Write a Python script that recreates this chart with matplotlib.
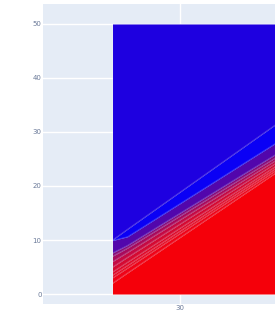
import matplotlib
matplotlib.use("Agg")
import matplotlib.pyplot as plt

# x positions of the data nodes
x_nodes = [25.5, 26.5, 37.0]

# boundary lines, bottom to top (value at each x node)
b1 = [2.0, 3.9, 23.6]
b2 = [3.0, 4.8, 24.0]
b3 = [3.5, 5.3, 24.4]
b4 = [4.1, 5.9, 24.8]
b5 = [5.0, 6.8, 25.3]
b6 = [6.0, 7.7, 25.8]
b7 = [7.0, 8.5, 26.3]
b8 = [7.6, 9.0, 26.9]
b9 = [9.9, 10.6, 29.0]
b10 = [10.0, 12.0, 32.6]
y_top = 50
bounds = [b1, b2, b3, b4, b5, b6, b7, b8, b9, b10]

# band fills, bottom to top
band_colors = ["#F5000A", "#EE0418", "#E6061F", "#DE0828", "#D40A32",
               "#C40A44", "#A80A5C", "#880A78", "#5206AC", "#0A00F5", "#1E00E0"]

fig = plt.figure(figsize=(2.75, 3.14), dpi=100)
ax = fig.add_axes([43 / 275, 10 / 314, 1 - 43 / 275, 300 / 314])
ax.set_facecolor("#E5ECF6")
for s in ax.spines.values():
    s.set_visible(False)

lower = [0] * len(x_nodes)
for i, col in enumerate(band_colors):
    upper = bounds[i] if i < len(bounds) else [y_top] * len(x_nodes)
    ax.fill_between(x_nodes, lower, upper, color=col, lw=0, zorder=2)
    lower = upper

for b in bounds:
    ax.plot(x_nodes, b, color="white", alpha=0.22, lw=0.6, zorder=3)
ax.plot([x_nodes[0]] * 2, [0, y_top], color="white", alpha=0.3, lw=0.8, zorder=3)

ax.set_xlim(20.87, 36.33)
ax.set_ylim(-1.85, 53.7)
ax.set_xticks([30])
ax.set_yticks([0, 10, 20, 30, 40, 50])
ax.grid(True, color="white", lw=1, zorder=1)
ax.set_axisbelow(True)
ax.tick_params(length=0, labelsize=5, labelcolor="#6b7a99", pad=1)
ax.tick_params(axis="x", pad=0.5)

fig.savefig("out.png", dpi=100)
